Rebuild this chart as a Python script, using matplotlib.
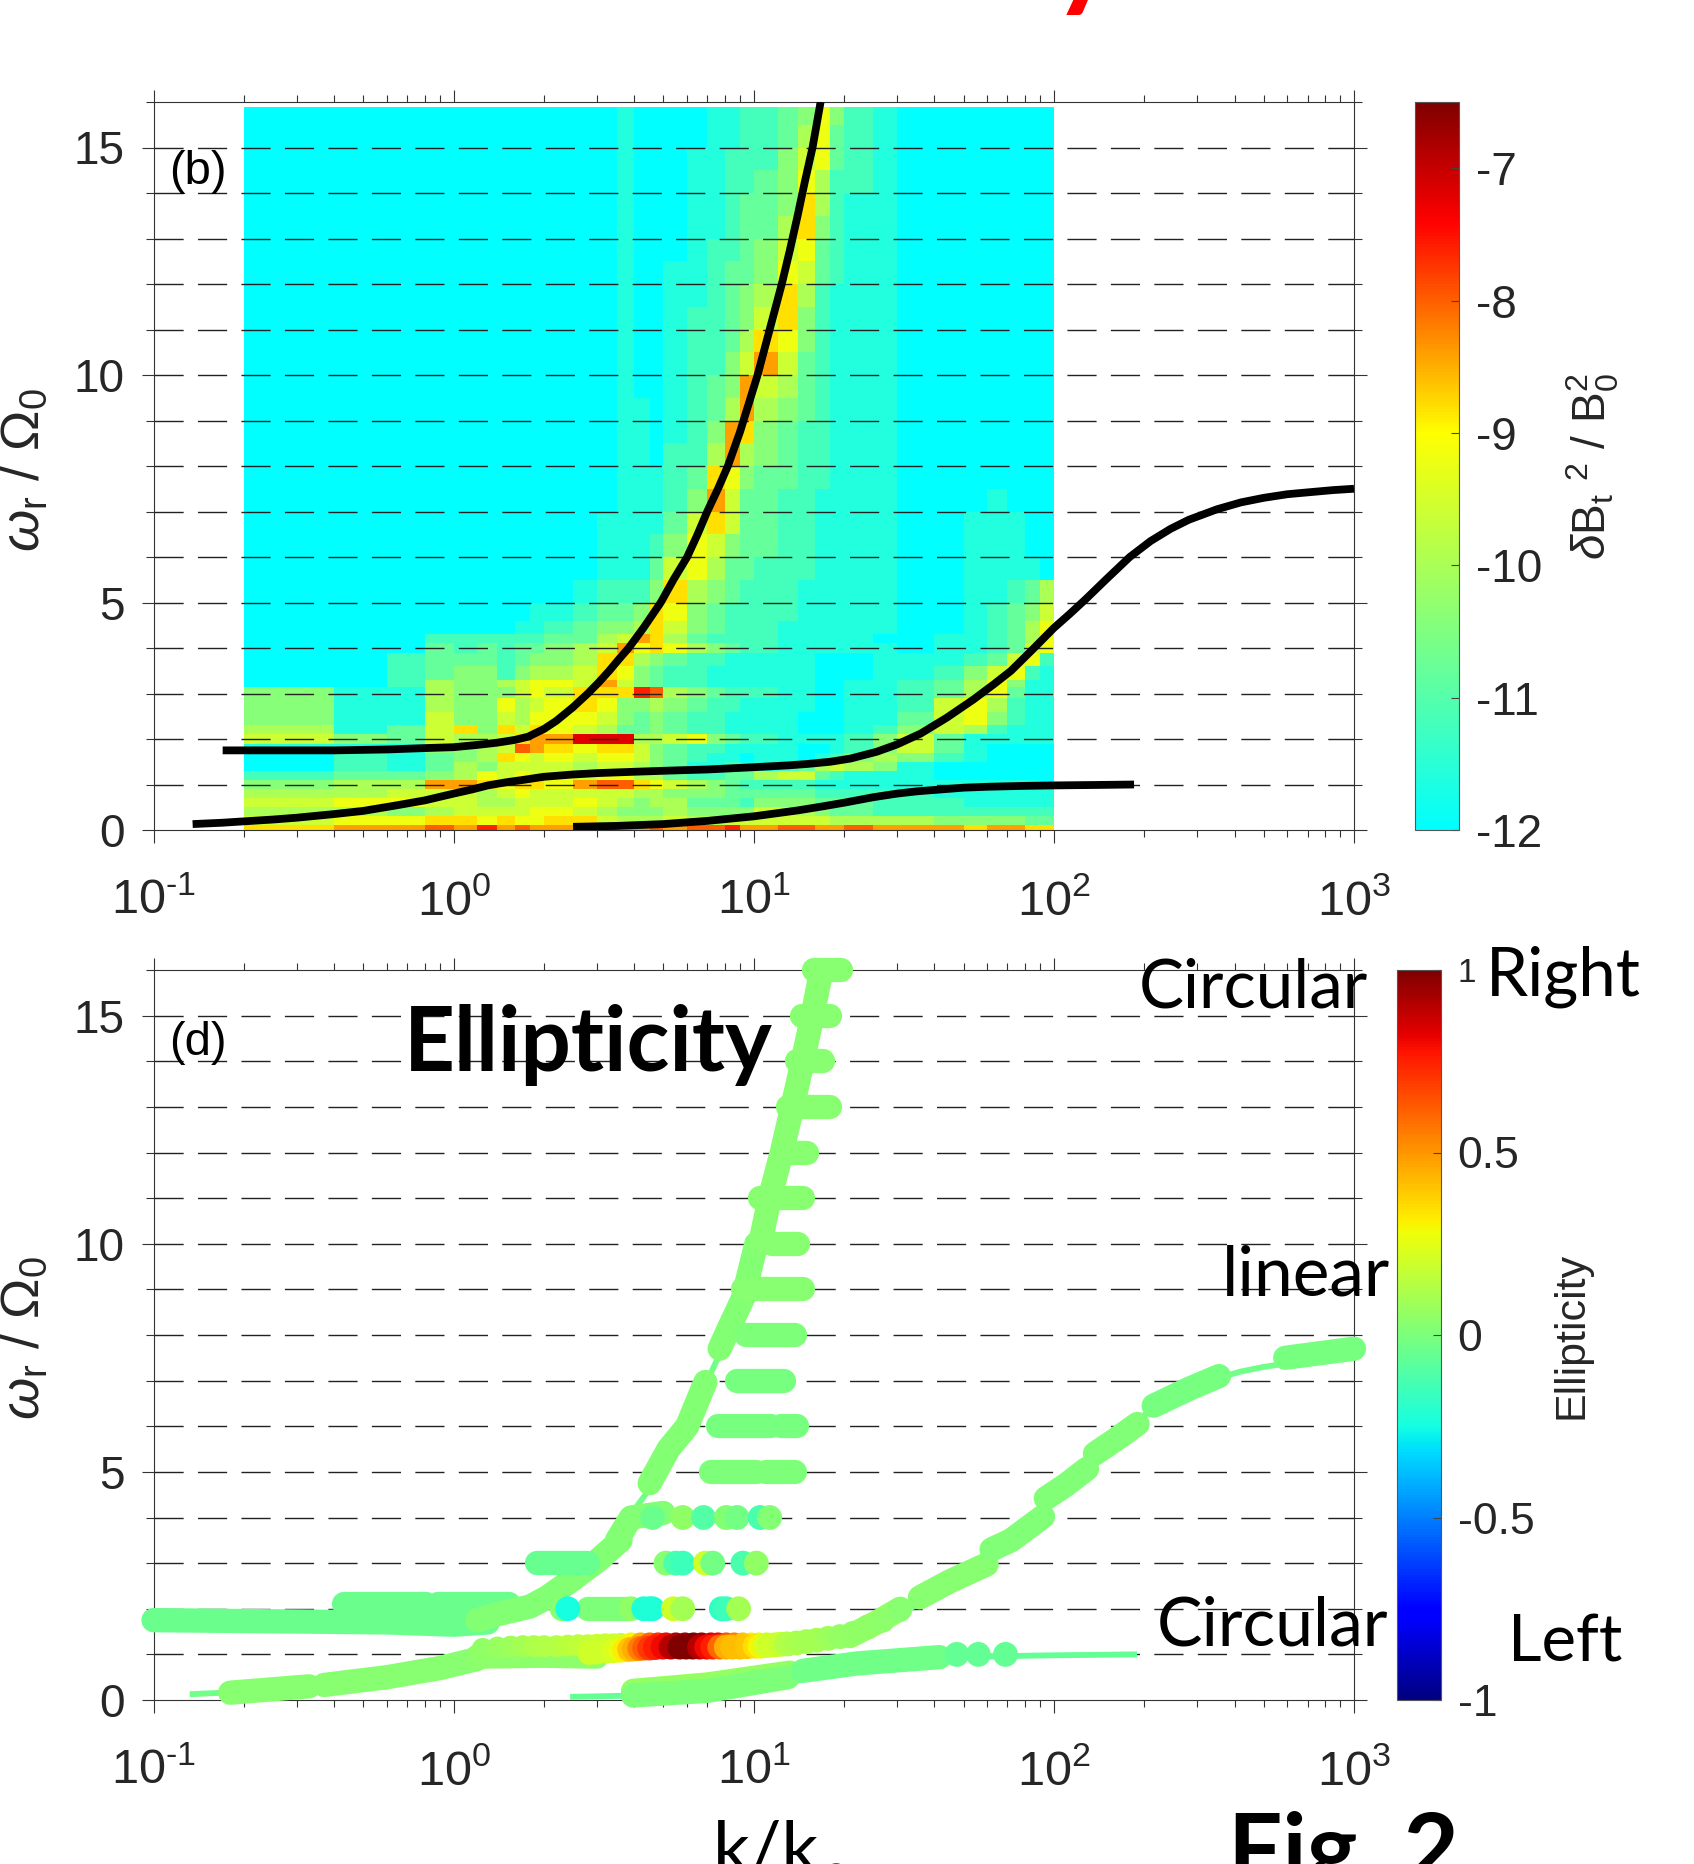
import numpy as np
import matplotlib
matplotlib.use("Agg")
import matplotlib.pyplot as plt
from matplotlib.colors import LinearSegmentedColormap, Normalize
from matplotlib.cm import ScalarMappable
from matplotlib.ticker import FixedLocator, NullFormatter

# dispersion curves
curve1_k = [0.17, 0.25, 0.4, 0.6, 0.8, 1.0, 1.2, 1.4, 1.6, 1.77, 2.0, 2.2, 2.5, 2.8, 3.05, 3.3, 3.55, 3.83, 4.3, 4.9, 5.4, 6, 6.5, 7, 7.6, 8.2, 9, 10.3, 11.3, 12.4, 13.2, 14, 14.8, 15.7, 16.7]
curve1_w = [1.75, 1.75, 1.75, 1.77, 1.8, 1.82, 1.87, 1.92, 1.98, 2.05, 2.22, 2.4, 2.7, 3, 3.25, 3.5, 3.75, 4, 4.45, 5, 5.5, 6, 6.5, 7, 7.5, 8, 8.75, 10, 11, 12, 12.75, 13.5, 14.25, 15, 16]
curve2_k = [0.135, 0.17, 0.2, 0.25, 0.3, 0.4, 0.5, 0.63, 0.8, 1, 1.15, 1.3, 1.5, 1.7, 2, 2.5, 3, 4, 5.5, 7, 10, 13, 15, 18, 21, 25.7, 30, 36, 44, 54, 63, 72, 85, 100, 113, 128, 150, 179, 210, 245, 282, 350, 420, 500, 600, 700, 850, 1000]
curve2_w = [0.13, 0.16, 0.19, 0.23, 0.27, 0.35, 0.42, 0.53, 0.65, 0.8, 0.89, 0.98, 1.05, 1.1, 1.17, 1.22, 1.25, 1.28, 1.31, 1.33, 1.38, 1.42, 1.45, 1.5, 1.57, 1.72, 1.88, 2.12, 2.47, 2.87, 3.2, 3.5, 3.97, 4.44, 4.75, 5.08, 5.52, 6, 6.35, 6.62, 6.82, 7.05, 7.2, 7.3, 7.38, 7.42, 7.47, 7.5]
curve3_k = [2.5, 3.5, 5, 7, 10, 14, 17, 20, 25, 30, 35, 40, 50, 60, 80, 100, 140, 185]
curve3_w = [0.07, 0.09, 0.13, 0.2, 0.3, 0.43, 0.52, 0.6, 0.72, 0.8, 0.85, 0.88, 0.93, 0.95, 0.97, 0.98, 0.99, 1.0]

# spectrum, one string per row from the top, hex digit = level step of 0.4 above -12
heat_k = [0.2, 0.4, 0.6, 0.8, 1.0, 1.2, 1.4, 1.6, 1.8, 2.0, 2.5, 3, 3.5, 4, 4.5, 5, 6, 7, 8, 9, 10, 12, 14, 16, 18, 20, 25, 30, 40, 50, 60, 70, 80, 90, 100]
heat_w = [15.9, 15.5, 15, 14.5, 14, 13.5, 13, 12.5, 12, 11.5, 11, 10.5, 10, 9.5, 9, 8.5, 8, 7.5, 7, 6.5, 6, 5.5, 5,
          4.6, 4.3, 4.1, 3.9, 3.6, 3.3, 3.15, 2.9, 2.6, 2.3, 2.1, 1.9, 1.7, 1.5, 1.3, 1.1, 0.9, 0.7, 0.5, 0.3, 0.12, 0]
heat_rows = [
    "0000000000" "0010000112" "23474210000000",
    "0000000000" "0010000112" "23573210000000",
    "0000000000" "0010001122" "24673210000000",
    "0000000000" "0010001122" "34752210000000",
    "0000000000" "0010001123" "34852110000000",
    "0000000000" "0010001123" "35842110000000",
    "0000000000" "0010001223" "46732110000000",
    "0000000000" "0010011233" "47632110000000",
    "0000000000" "0010011234" "58521110000000",
    "0000000000" "0010012234" "68421110000000",
    "0000000000" "0010012235" "87421110000000",
    "0000000000" "0010012246" "96321110000000",
    "0000000000" "0010012349" "65321110000000",
    "0000000000" "0011012359" "54321110000000",
    "0000000000" "0011012498" "43221110000000",
    "0000000000" "0011022595" "43221110000000",
    "0000000000" "0011123874" "33221110000000",
    "0000000000" "0011124963" "32211110001000",
    "0000000000" "0111136863" "32211110011100",
    "0000000000" "0111247643" "32211110011100",
    "0000000000" "0111367533" "22211110011110",
    "0000000000" "1222485432" "22111110011235",
    "0000000011" "2334874322" "22111110012346",
    "0000000112" "3445864322" "21111110012357",
    "0002222223" "3569853222" "21111100112357",
    "0003232334" "5697875432" "21111110112367",
    "0023332344" "5885432211" "11100011123672",
    "0023442455" "6874322111" "11100011246721",
    "0025445677" "6964322111" "11100112357411",
    "4115444676" "888ba54322" "21100112357311",
    "4115447567" "8744543221" "11100112675211",
    "4116446577" "7643432211" "11000113674211",
    "5136848687" "6533432211" "11000124652111",
    "6436556899" "ccc5567432" "21111246311111",
    "1114456a98" "7886432211" "11001246310000",
    "0213458767" "6776432110" "11012454210000",
    "0213546666" "5665431121" "12356541000000",
    "2334576767" "6775532233" "56632111000000",
    "4559987887" "9aa8765432" "22211111111110",
    "5566656766" "6665544433" "33322222111111",
    "6776655666" "7654553332" "44433322211111",
    "5545666677" "6544454444" "66543322222222",
    "6778878778" "8655565566" "66665555444433",
    "899a9b9a99" "9a99a9aab9" "9aa99a99989988",
]
level_step = 0.4
level_base = -12

# ellipticity panel, stretches of solid marks along the branches
chain_k = [
    [0.1, 0.3, 0.6, 1.0, 1.3], [0.43, 0.81], [0.89, 1.53],
    [1.2, 1.4, 1.8, 2.05, 2.5, 3.0, 3.6], [3.5, 3.9, 5.0], [4.5, 5.2, 6.0, 6.9], [7.7, 8.2, 9.2, 10.2], [10.5, 11.3, 12.4, 14, 15.7, 16.8],
    [15.9, 19.5], [14.5, 18], [13.9, 17], [13, 18], [12.5, 15], [10.5, 14.6], [11.5, 14], [9.2, 14.6], [9.4, 13.7],
    [8.8, 12.6], [7.6, 11.4], [12.3, 13.9], [7.2, 10.2], [11, 13.7], [1.9, 2.8], [2.8, 3.8],
    [0.18, 0.33], [0.37, 0.6, 0.9, 1.2], [1.2, 2.0, 3.0],
    [3.96, 7, 13.2], [3.96, 7, 13], [14.6, 22, 41.6],
    [20.9, 25.7, 30.8], [35.8, 45, 59.7], [62, 72, 92], [94, 110, 129], [137, 160, 190], [215, 282, 355], [590, 1000],
]
chain_w = [
    [1.75, 1.72, 1.70, 1.65, 1.70], [2.1, 2.1], [2.1, 2.1],
    [1.75, 1.88, 2.05, 2.25, 2.65, 3.04, 3.5], [3.5, 4, 4.1], [4.75, 5.5, 6.0, 6.97], [7.7, 8.1, 8.8, 10], [10, 11, 12, 13.5, 15, 16],
    [16, 16], [15, 15], [14, 14], [13, 13], [12, 12], [11, 11], [10, 10], [9, 9], [8, 8],
    [7, 7], [6, 6], [6, 6], [5, 5], [5, 5], [3, 3], [2, 2],
    [0.16, 0.3], [0.33, 0.5, 0.7, 0.9], [0.95, 0.97, 0.95],
    [0.2, 0.34, 0.6], [0.1, 0.2, 0.5], [0.64, 0.8, 0.94],
    [1.4, 1.7, 2.0], [2.25, 2.6, 2.97], [3.3, 3.5, 4.02], [4.42, 4.72, 5.07], [5.4, 5.7, 6.05], [6.45, 6.82, 7.1], [7.5, 7.7],
]
chain_e = [
    -0.04, -0.04, -0.04,
    0.02, 0.02, 0.02, 0.02, 0.03,
    0.03, 0.03, 0.03, 0.03, 0.03, 0.03, 0.03, 0.03, 0.0,
    -0.01, -0.01, -0.01, 0.0, 0.0, -0.05, 0.0,
    0.03, 0.03, 0.04,
    0.06, 0.0, -0.03,
    0.06, 0.03, 0.01, 0.01, 0.01, -0.01, -0.01,
]

# single marks at the harmonics
dots_k = [4.6, 5.8, 6.8, 8.1, 8.8, 10.5, 11.3,
          5.1, 5.5, 5.8, 6.9, 7.3, 9.2, 10.2,
          2.3, 2.4, 3.9, 4.3, 4.5, 4.6, 5.4, 5.8, 7.8, 8.1, 8.9,
          47.5, 56, 69]
dots_w = [4, 4, 4, 4, 4, 4, 4,
          3, 3, 3, 3, 3, 3, 3,
          2, 2, 2, 2, 2, 2, 2, 2, 2, 2, 2,
          1, 1, 1]
dots_e = [-0.04, 0.05, -0.1, 0.02, -0.02, -0.12, 0.02,
          0.03, -0.12, -0.15, 0.2, -0.02, -0.12, 0.05,
          0.03, -0.25, 0.05, -0.22, -0.22, -0.22, 0.2, 0.1, -0.18, -0.15, 0.1,
          -0.06, -0.06, -0.06]

# coloured band around w = 1.2, upper layer first
band_upper_k = [1.25, 1.4, 1.55, 1.7, 1.85, 2, 2.2, 2.4, 2.6, 2.8, 3, 3.2, 3.4, 3.6,
                3.9, 4.2, 4.5, 4.8, 5.1, 5.5, 5.9, 6.3, 6.7, 7.2, 7.6, 8.1, 8.6, 9.2, 9.8, 10.4, 11]
band_upper_w = [1.12, 1.15, 1.17, 1.18, 1.18, 1.18, 1.18, 1.19, 1.2, 1.2, 1.21, 1.22, 1.22, 1.23,
                1.24, 1.24, 1.24, 1.24, 1.24, 1.24, 1.24, 1.24, 1.24, 1.24, 1.24, 1.24, 1.24, 1.24, 1.24, 1.24, 1.24]
band_upper_e = [0.05, 0.07, 0.08, 0.1, 0.12, 0.13, 0.14, 0.15, 0.16, 0.17, 0.18, 0.18, 0.19, 0.2,
                0.3, 0.45, 0.6, 0.72, 0.8, 0.9, 0.95, 1, 0.95, 0.85, 0.8, 0.65, 0.55, 0.4, 0.3, 0.25, 0.2]
band_lower_k = [2.84, 3.0, 3.23, 3.4, 3.58, 3.72, 3.86, 4.0, 4.17, 4.33, 4.5, 4.7, 4.98, 5.3, 5.67, 5.95, 6.26, 6.6, 6.97, 7.3,
                7.7, 8.1, 8.5, 8.98, 9.5, 10.1, 10.5, 10.9, 11.3, 11.8, 12.3, 12.9, 13.9, 15, 16.2, 17.7, 19.4, 21.4, 24, 26.9, 30.6]
band_lower_w = [1.04, 1.05, 1.07, 1.08, 1.09, 1.1, 1.11, 1.12, 1.13, 1.14, 1.14, 1.15, 1.16, 1.16, 1.16, 1.16, 1.16, 1.16, 1.16, 1.16,
                1.16, 1.16, 1.16, 1.16, 1.17, 1.18, 1.18, 1.19, 1.2, 1.21, 1.22, 1.23, 1.25, 1.28, 1.31, 1.35, 1.39, 1.46, 1.6, 1.75, 1.98]
band_lower_e = [0.2, 0.2, 0.2, 0.22, 0.25, 0.32, 0.4, 0.45, 0.55, 0.62, 0.7, 0.75, 0.8, 0.9, 1, 1, 1, 0.9, 0.8, 0.75,
                0.6, 0.45, 0.42, 0.42, 0.4, 0.35, 0.3, 0.22, 0.2, 0.2, 0.18, 0.13, 0.11, 0.1, 0.1, 0.08, 0.06, 0.05, 0.05, 0.04, 0.03]

x_ticks = [0.1, 1, 10, 100, 1000]
x_tick_labels = [r"10$^{\text{-}1}$", r"10$^{0}$", r"10$^{1}$", r"10$^{2}$", r"10$^{3}$"]
y_ticks = [0, 5, 10, 15]
dash_levels = list(range(1, 17))
cb1_ticks = [-12, -11, -10, -9, -8, -7]
cb1_tick_labels = ["-12", "-11", "-10", "-9", "-8", "-7"]
cb2_ticks = [-1, -0.5, 0, 0.5, 1]
cb2_tick_labels = ["-1", "-0.5", "0", "0.5", "1"]

W, H = 1694, 1864
TEXT_DARK = "#262626"

plt.rcParams["font.family"] = ["Liberation Sans", "DejaVu Sans"]
plt.rcParams["mathtext.fontset"] = "custom"
plt.rcParams["mathtext.rm"] = "Liberation Sans"
plt.rcParams["mathtext.it"] = "Liberation Sans:italic"
plt.rcParams["mathtext.bf"] = "Liberation Sans:bold"
plt.rcParams["lines.scale_dashes"] = False
plt.rcParams["axes.unicode_minus"] = False


def px_axes(fig, x0, y0, x1, y1):
    return fig.add_axes([x0 / W, 1 - y1 / H, (x1 - x0) / W, (y1 - y0) / H])


def fig_text(fig, x, y, s, **kw):
    fig.text(x / W, 1 - y / H, s, **kw)


def style_axes(ax):
    ax.set_xscale("log")
    ax.set_xlim(0.1, 1000)
    ax.set_ylim(0, 16)
    ax.set_xticks(x_ticks)
    ax.set_xticklabels(x_tick_labels)
    ax.xaxis.set_minor_locator(FixedLocator([m * 10.0 ** e for e in range(-1, 3) for m in range(2, 10)]))
    ax.xaxis.set_minor_formatter(NullFormatter())
    ax.set_yticks(y_ticks)
    ax.yaxis.set_minor_locator(FixedLocator(dash_levels))
    ax.tick_params(axis="x", which="major", direction="out", length=9, width=0.8, top=True, labelsize=35, pad=26, color="#333333", labelcolor=TEXT_DARK)
    ax.tick_params(axis="x", which="minor", direction="out", length=5, width=0.8, top=True, color="#333333")
    ax.tick_params(axis="y", which="major", direction="out", length=9, width=0.8, right=True, labelsize=33, pad=12, color="#333333", labelcolor=TEXT_DARK)
    ax.tick_params(axis="y", which="minor", direction="out", length=6, width=0.8, right=True, color="#333333")
    for s in ax.spines.values():
        s.set_linewidth(0.8)
        s.set_color("#333333")
    # the dashed lines at every harmonic
    ax.hlines(dash_levels[:-1], 0.1, 1000, colors="#222222", linewidths=1.0, linestyles=(0, (21, 10.3)), zorder=2)


fig = plt.figure(figsize=(W / 100, H / 100), dpi=100, facecolor="white")

# (b) spectrum
spec_cmap = LinearSegmentedColormap.from_list("spec", [
    (0.0, "#00FFFF"), (1.5 / 5.5, "#80FF80"), (3.0 / 5.5, "#FFFF00"), (4.6 / 5.5, "#FF0000"), (1.0, "#800000")])
spec_norm = Normalize(-12, -6.5)
ax1 = px_axes(fig, 153.5, 102, 1354, 830)
style_axes(ax1)
heat = np.array([[level_base + level_step * int(c, 16) for c in row] for row in heat_rows])
ax1.pcolormesh(heat_k, heat_w, heat, cmap=spec_cmap, norm=spec_norm, shading="flat", zorder=1, rasterized=True)
for k, w in [(curve1_k, curve1_w), (curve2_k, curve2_w), (curve3_k, curve3_w)]:
    ax1.plot(k, w, color="black", lw=5.6, solid_capstyle="butt", zorder=4)

cax1 = px_axes(fig, 1415, 102, 1459, 830)
cb1 = fig.colorbar(ScalarMappable(norm=spec_norm, cmap=spec_cmap), cax=cax1, ticks=cb1_ticks)
cb1.ax.set_yticklabels(cb1_tick_labels)
cb1.ax.tick_params(direction="in", length=6, width=0.8, labelsize=33, pad=12, color="#444444", labelcolor=TEXT_DARK)
cb1.outline.set_edgecolor("#555555")
cb1.outline.set_linewidth(0.8)

# (d) ellipticity
ell_cmap = plt.get_cmap("jet")
ell_norm = Normalize(-1, 1)
ax2 = px_axes(fig, 153.5, 970, 1354, 1700)
style_axes(ax2)
thin = ell_cmap(ell_norm(-0.03))
ax2.plot(curve1_k, curve1_w, color=thin, lw=4.2, zorder=3)
ax2.plot(curve2_k, curve2_w, color=thin, lw=4.2, zorder=3)
ax2.plot(curve3_k, curve3_w, color=ell_cmap(ell_norm(-0.06)), lw=4.2, zorder=3)
for k, w, e in zip(chain_k, chain_w, chain_e):
    ax2.plot(k, w, color=ell_cmap(ell_norm(e)), lw=17.5, solid_capstyle="round", zorder=4, clip_on=False)
ax2.scatter(band_upper_k, band_upper_w, c=band_upper_e, cmap=ell_cmap, norm=ell_norm, s=250, linewidths=0, zorder=5)
ax2.scatter(band_lower_k, band_lower_w, c=band_lower_e, cmap=ell_cmap, norm=ell_norm, s=320, linewidths=0, zorder=5)
ax2.scatter(dots_k, dots_w, c=dots_e, cmap=ell_cmap, norm=ell_norm, s=320, linewidths=0, zorder=5)

cax2 = px_axes(fig, 1397, 970, 1441, 1700)
cb2 = fig.colorbar(ScalarMappable(norm=ell_norm, cmap=ell_cmap), cax=cax2, ticks=cb2_ticks)
cb2.ax.set_yticklabels(cb2_tick_labels)
cb2.ax.tick_params(direction="in", length=6, width=0.8, labelsize=32, pad=12, color="#444444", labelcolor=TEXT_DARK)
cb2.ax.get_yticklabels()[-1].set_fontsize(24)
cb2.outline.set_edgecolor("#555555")
cb2.outline.set_linewidth(0.8)

# axis and colorbar titles
w_label = r"$\omega_{\mathrm{r}}\ /\ \Omega_{\mathrm{0}}$"
fig_text(fig, 24, 470, w_label, rotation=90, ha="center", va="center", fontsize=39, color=TEXT_DARK)
fig_text(fig, 24, 1338, w_label, rotation=90, ha="center", va="center", fontsize=39, color=TEXT_DARK)
fig_text(fig, 1593, 467, r"$\delta\mathrm{B}_{\mathrm{t}}\ ^{2}\ /\ \mathrm{B}_{\mathrm{0}}^{2}$", rotation=90, ha="center", va="center", fontsize=33, color=TEXT_DARK)
fig_text(fig, 1571, 1335, "Ellipticity", rotation=90, ha="center", va="center", fontsize=31, color=TEXT_DARK)
fig_text(fig, 198, 172, "(b)", ha="center", va="center", fontsize=34, color="black")
fig_text(fig, 198, 1043, "(d)", ha="center", va="center", fontsize=34, color="black")

# text pasted on the slide
slide = ["Lato", "DejaVu Sans"]
fig_text(fig, 404, 1070.5, "Ellipticity", family=slide, weight="bold", fontsize=64, color="black", zorder=10)
fig_text(fig, 1139, 1007, "Circular", family=slide, fontsize=48.5, color="black", zorder=10)
fig_text(fig, 1486, 996, "Right", family=slide, fontsize=48.5, color="black", zorder=10)
fig_text(fig, 1222, 1295, "linear", family=slide, fontsize=50, color="black", zorder=10)
fig_text(fig, 1157, 1646, "Circular", family=slide, fontsize=49, color="black", zorder=10)
fig_text(fig, 1508, 1661, "Left", family=slide, fontsize=47, color="black", zorder=10)
fig_text(fig, 713, 1873, "k/k", family=slide, fontsize=52, color="black", zorder=10)
fig_text(fig, 825, 1891, "0", family=slide, fontsize=28, color="#555555", zorder=10)
fig_text(fig, 1228, 1882, "Fig. 2", family=slide, weight="bold", fontsize=69, color="black", zorder=10)
fig_text(fig, 1052, -6, "y", family=slide, weight="bold", fontsize=90, color="red", zorder=10)

fig.savefig("out.png", dpi=100, facecolor="white")
